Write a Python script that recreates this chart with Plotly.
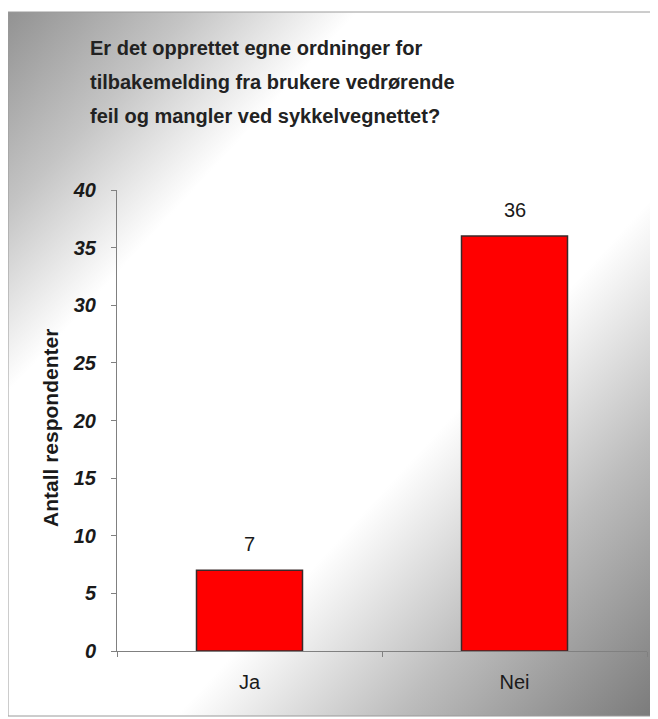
import base64
import plotly.graph_objects as go

categories = ["Ja", "Nei"]
values = [7, 36]
y_ticks = [0, 5, 10, 15, 20, 25, 30, 35, 40]
title_lines = [
    "Er det opprettet egne ordninger for",
    "tilbakemelding fra brukere vedrørende",
    "feil og mangler ved sykkelvegnettet?",
]
y_title = "Antall respondenter"

# the page has an 8px body margin: work in reference pixels and shift
OFF = 8
W, H = 658 - OFF, 719 - OFF
L, R, T, B = 117 - OFF, 647 - OFF, 190 - OFF, 651 - OFF  # plot area in figure pixels


def px_x(px):
    return (px - OFF - L) / (R - L)


def px_y(py):
    return (B - (py - OFF)) / (B - T)


svg = (
    '<svg xmlns="http://www.w3.org/2000/svg" width="647" height="704" preserveAspectRatio="none">'
    '<defs><linearGradient id="g" x1="0" y1="0" x2="1" y2="1">'
    '<stop offset="0" stop-color="#929292"/>'
    '<stop offset="0.14" stop-color="#c4c4c4"/>'
    '<stop offset="0.27" stop-color="#ffffff"/>'
    '<stop offset="0.63" stop-color="#ffffff"/>'
    '<stop offset="0.8" stop-color="#bdbdbd"/>'
    '<stop offset="1" stop-color="#7a7a7a"/>'
    '</linearGradient></defs>'
    '<rect x="0" y="0" width="647" height="704" fill="url(#g)"/></svg>'
)
src = "data:image/svg+xml;base64," + base64.b64encode(svg.encode()).decode()

FONT = "Liberation Sans, Arial"

fig = go.Figure()
fig.add_trace(go.Bar(
    x=categories, y=values, width=0.4,
    marker=dict(color="#ff0000", line=dict(color="#3a2a2a", width=1.5)),
    hoverinfo="skip",
))

for c, v in zip(categories, values):
    fig.add_annotation(x=c, y=v, text=str(v), showarrow=False, yshift=26,
                       font=dict(family=FONT, size=20, color="#1a1a1a"))

for i, line in enumerate(title_lines):
    fig.add_annotation(xref="paper", yref="paper", x=px_x(88), y=px_y(48 + 34 * i),
                       xanchor="left", yanchor="middle", text=f"<b>{line}</b>", showarrow=False,
                       font=dict(family=FONT, size=20, color="#222222"))

fig.add_annotation(xref="paper", yref="paper", x=px_x(50), y=px_y(428), text=f"<b>{y_title}</b>",
                   textangle=-90, showarrow=False, xanchor="center", yanchor="middle",
                   font=dict(family=FONT, size=21, color="#1a1a1a"))

fig.add_shape(type="rect", xref="paper", yref="paper",
              x0=px_x(8), x1=px_x(655), y0=px_y(716), y1=px_y(12),
              line=dict(color="#9a9a9a", width=1), layer="below")

fig.update_layout(
    width=W, height=H,
    margin=dict(l=L, r=W - R, t=T, b=H - B, pad=0),
    paper_bgcolor="white",
    plot_bgcolor="rgba(0,0,0,0)",
    showlegend=False,
    images=[dict(source=src, xref="paper", yref="paper", x=px_x(8), y=px_y(12),
                 sizex=px_x(655) - px_x(8), sizey=px_y(12) - px_y(716),
                 xanchor="left", yanchor="top", sizing="stretch", layer="below")],
    xaxis=dict(
        range=[-0.5, 1.5], showgrid=False, zeroline=False,
        showline=True, linecolor="#808080", linewidth=1,
        ticks="outside", tickson="boundaries", ticklen=5, tickcolor="#808080",
        ticklabelstandoff=13,
        tickfont=dict(family=FONT, size=20, color="#1a1a1a"),
    ),
    yaxis=dict(
        range=[0, 40], tickvals=y_ticks, showgrid=False, zeroline=False,
        showline=True, linecolor="#808080", linewidth=1,
        ticks="outside", ticklen=5, tickcolor="#808080",
        ticklabelstandoff=11,
        tickfont=dict(family=FONT, size=20, color="#1a1a1a",
                      weight="bold", style="italic"),
    ),
)

fig.write_html("out.html")
